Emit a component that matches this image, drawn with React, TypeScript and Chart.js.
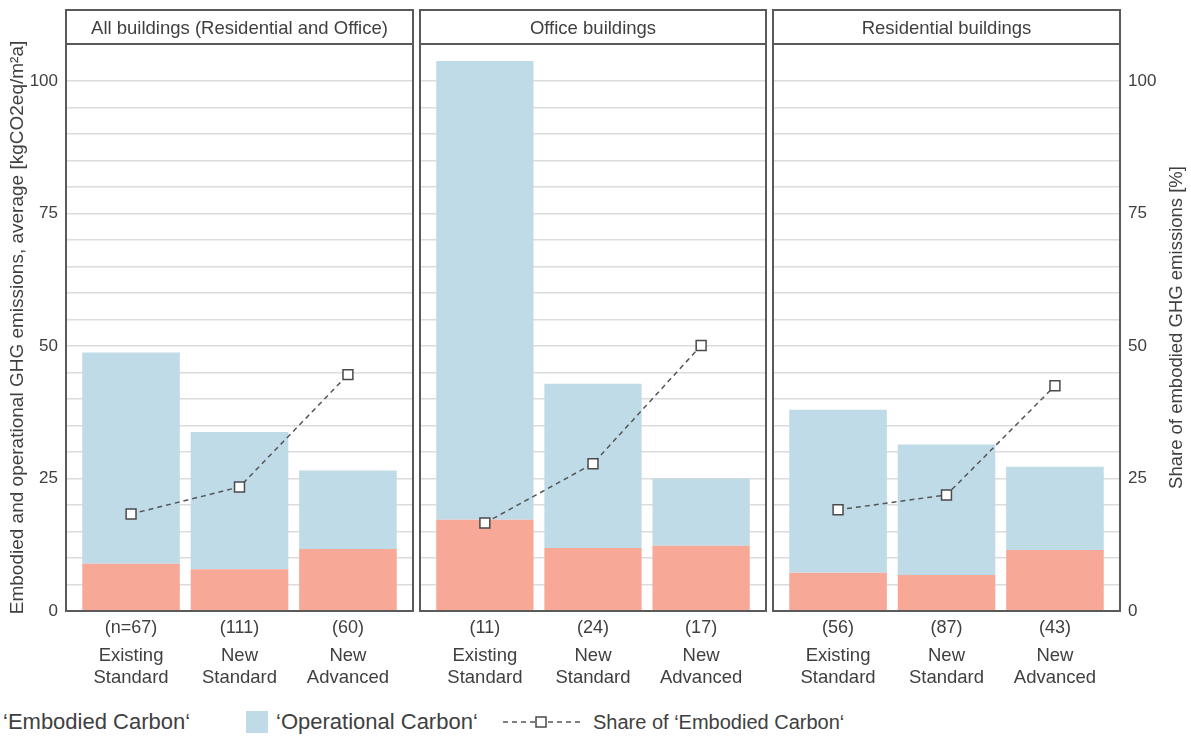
import React, { useEffect, useRef } from 'react';
import { Chart, registerables } from 'chart.js';

Chart.register(...registerables);

// ---- data ----
const groupTitles = ['All buildings (Residential and Office)', 'Office buildings', 'Residential buildings'];
const categories = [
  ['Existing', 'Standard'],
  ['New', 'Standard'],
  ['New', 'Advanced'],
];
const sampleSizesAll = ['(n=67)', '(111)', '(60)'];
const sampleSizesOffice = ['(11)', '(24)', '(17)'];
const sampleSizesResidential = ['(56)', '(87)', '(43)'];

// kgCO2eq/m²a
const embodiedAll = [8.9, 7.9, 11.7];
const operationalAll = [39.9, 25.9, 14.8];
const embodiedOffice = [17.2, 11.9, 12.3];
const operationalOffice = [86.6, 31.0, 12.7];
const embodiedResidential = [7.2, 6.8, 11.5];
const operationalResidential = [30.8, 24.6, 15.7];

// %
const shareAll = [18.3, 23.4, 44.6];
const shareOffice = [16.6, 27.8, 50.1];
const shareResidential = [19.1, 21.9, 42.5];

const yMax = 107;
const yTickStep = 5;
const labeledTickStep = 25;
// category slots sit at 0, 1, 2; the panel shows a little margin beyond the outer bars
const xMin = -0.6;
const xMax = 2.6;

const FONT = '"Liberation Sans", Arial, Helvetica, sans-serif';
const TEXT = '#404040';
const BLUE = '#c0dbe8';
const PINK = '#f7a896';
const LINE = '#555555';
const GRID = '#dcdcdc';
const FRAME = '#5a5a5a';

const framePlugin = {
  id: 'panelFrame',
  afterDraw(chart: any, _args: any, opts: any) {
    const { ctx, chartArea: a } = chart;
    ctx.save();
    ctx.strokeStyle = FRAME;
    ctx.lineWidth = 2;
    ctx.strokeRect(a.left, a.top, a.right - a.left, a.bottom - a.top);
    ctx.strokeRect(a.left, opts.headerTop, a.right - a.left, a.top - opts.headerTop);
    ctx.fillStyle = TEXT;
    ctx.font = `18.5px ${FONT}`;
    ctx.textAlign = 'center';
    ctx.textBaseline = 'middle';
    ctx.fillText(opts.title, (a.left + a.right) / 2, (opts.headerTop + a.top) / 2 + 2);
    if (opts.rightTitle) {
      ctx.translate(opts.rightTitleX, (a.top + a.bottom) / 2);
      ctx.rotate(-Math.PI / 2);
      ctx.font = `18.5px ${FONT}`;
      ctx.fillText(opts.rightTitle, 0, 0);
    }
    ctx.restore();
  },
};

const toPoints = (values: number[]) => values.map((v, i) => ({ x: i, y: v }));
const slotLabel = (list: any[]) => (v: any) => {
  const n = Number(v);
  return Number.isInteger(n) && n >= 0 && n < list.length ? list[n] : '';
};

type PanelProps = {
  title: string;
  counts: string[];
  embodied: number[];
  operational: number[];
  share: number[];
  left: number;
  width: number;
  height: number;
  padLeft: number;
  padRight: number;
  leftAxisWidth: number;
  rightAxisWidth: number;
  showLeftAxis: boolean;
  showRightAxis: boolean;
};

function Panel(p: PanelProps) {
  const ref = useRef<HTMLCanvasElement>(null);

  useEffect(() => {
    if (!ref.current) return;
    const tickLabel = (v: any) => (Number(v) % labeledTickStep === 0 ? String(v) : '');
    const chart = new Chart(ref.current, {
      type: 'bar',
      data: {
        datasets: [
          {
            type: 'line',
            label: 'Share of ‘Embodied Carbon‘',
            data: toPoints(p.share),
            yAxisID: 'yp',
            borderColor: LINE,
            borderWidth: 1.5,
            borderDash: [5, 4],
            pointStyle: 'rect',
            pointRadius: 7,
            pointBackgroundColor: '#ffffff',
            pointBorderColor: '#4a4a4a',
            pointBorderWidth: 1.5,
            fill: false,
            order: 0,
          } as any,
          {
            label: '‘Embodied Carbon‘',
            data: toPoints(p.embodied),
            backgroundColor: PINK,
            barPercentage: 0.9,
            categoryPercentage: 1,
            order: 1,
          },
          {
            label: '‘Operational Carbon‘',
            data: toPoints(p.operational),
            backgroundColor: BLUE,
            barPercentage: 0.9,
            categoryPercentage: 1,
            order: 1,
          },
        ],
      },
      options: {
        animation: false,
        responsive: false,
        layout: {
          autoPadding: false,
          padding: { top: 44, left: p.padLeft, right: p.padRight, bottom: 0 },
        },
        plugins: {
          legend: { display: false },
          tooltip: { enabled: false },
          panelFrame: {
            title: p.title,
            headerTop: 10,
            rightTitle: p.showRightAxis ? 'Share of embodied GHG emissions [%]' : '',
            rightTitleX: p.width - 14,
          },
        } as any,
        scales: {
          x: {
            type: 'linear',
            min: xMin,
            max: xMax,
            offset: false,
            stacked: true,
            position: 'bottom',
            weight: 1,
            grid: { display: false, drawTicks: false },
            border: { display: false },
            ticks: {
              stepSize: 1,
              includeBounds: false,
              autoSkip: false,
              maxRotation: 0,
              padding: 4,
              color: TEXT,
              font: { family: FONT, size: 18.5, lineHeight: 1.2 },
              callback: slotLabel(categories),
            },
            afterFit: (s: any) => {
              s.height = 59;
            },
          },
          xn: {
            type: 'linear',
            min: xMin,
            max: xMax,
            offset: false,
            position: 'bottom',
            weight: 0,
            grid: { display: false, drawTicks: false },
            border: { display: false },
            ticks: {
              stepSize: 1,
              includeBounds: false,
              autoSkip: false,
              maxRotation: 0,
              padding: 6,
              color: TEXT,
              font: { family: FONT, size: 18 },
              callback: slotLabel(p.counts),
            },
            afterFit: (s: any) => {
              s.height = 30;
            },
          },
          y: {
            stacked: true,
            min: 0,
            max: yMax,
            position: 'left',
            grid: { color: GRID, lineWidth: 1.5, drawTicks: false },
            border: { display: false },
            ticks: {
              display: p.showLeftAxis,
              stepSize: yTickStep,
              autoSkip: false,
              padding: 8,
              color: TEXT,
              font: { family: FONT, size: 17 },
              callback: tickLabel,
            },
            title: {
              display: p.showLeftAxis,
              text: 'Embodied and operational GHG emissions, average [kgCO2eq/m²a]',
              color: TEXT,
              font: { family: FONT, size: 19 },
              padding: { top: 6.5, bottom: 0 },
            },
            afterFit: (s: any) => {
              s.width = p.leftAxisWidth;
            },
          },
          yp: {
            min: 0,
            max: yMax,
            position: 'right',
            display: p.showRightAxis,
            grid: { display: false, drawTicks: false },
            border: { display: false },
            ticks: {
              stepSize: yTickStep,
              autoSkip: false,
              padding: 8,
              color: TEXT,
              font: { family: FONT, size: 17 },
              callback: tickLabel,
            },
            afterFit: (s: any) => {
              s.width = p.rightAxisWidth;
            },
          },
        },
      },
      plugins: [framePlugin],
    });
    return () => chart.destroy();
  }, []);

  return (
    <canvas
      ref={ref}
      width={p.width}
      height={p.height}
      style={{ position: 'absolute', left: p.left, top: 0, width: p.width, height: p.height }}
    />
  );
}

const legendText: React.CSSProperties = {
  position: 'absolute',
  top: 708,
  fontFamily: FONT,
  fontSize: 22,
  lineHeight: '28px',
  color: TEXT,
  whiteSpace: 'nowrap',
};

export default function App() {
  const H = 700;
  return (
    <div style={{ position: 'absolute', left: 0, top: 0, width: 1191, height: 736, background: '#fff', overflow: 'hidden' }}>
      <Panel
        title={groupTitles[0]}
        counts={sampleSizesAll}
        embodied={embodiedAll}
        operational={operationalAll}
        share={shareAll}
        left={0}
        width={417}
        height={H}
        padLeft={0}
        padRight={4}
        leftAxisWidth={66}
        rightAxisWidth={0}
        showLeftAxis={true}
        showRightAxis={false}
      />
      <Panel
        title={groupTitles[1]}
        counts={sampleSizesOffice}
        embodied={embodiedOffice}
        operational={operationalOffice}
        share={shareOffice}
        left={417}
        width={353}
        height={H}
        padLeft={3}
        padRight={4}
        leftAxisWidth={0}
        rightAxisWidth={0}
        showLeftAxis={false}
        showRightAxis={false}
      />
      <Panel
        title={groupTitles[2]}
        counts={sampleSizesResidential}
        embodied={embodiedResidential}
        operational={operationalResidential}
        share={shareResidential}
        left={770}
        width={421}
        height={H}
        padLeft={3}
        padRight={0}
        leftAxisWidth={0}
        rightAxisWidth={71}
        showLeftAxis={false}
        showRightAxis={true}
      />
      <div style={{ ...legendText, left: 3 }}>‘Embodied Carbon‘</div>
      <div style={{ position: 'absolute', left: 246, top: 711, width: 22, height: 22, background: BLUE }} />
      <div style={{ ...legendText, left: 276 }}>‘Operational Carbon‘</div>
      <svg style={{ position: 'absolute', left: 500, top: 712 }} width={84} height={20}>
        <line x1={3} y1={10} x2={80} y2={10} stroke={LINE} strokeWidth={1.5} strokeDasharray="5 4" />
        <rect x={36} y={5} width={10} height={10} fill="#fff" stroke="#4a4a4a" strokeWidth={1.5} />
      </svg>
      <div style={{ ...legendText, left: 593, fontSize: 20 }}>Share of ‘Embodied Carbon‘</div>
    </div>
  );
}
